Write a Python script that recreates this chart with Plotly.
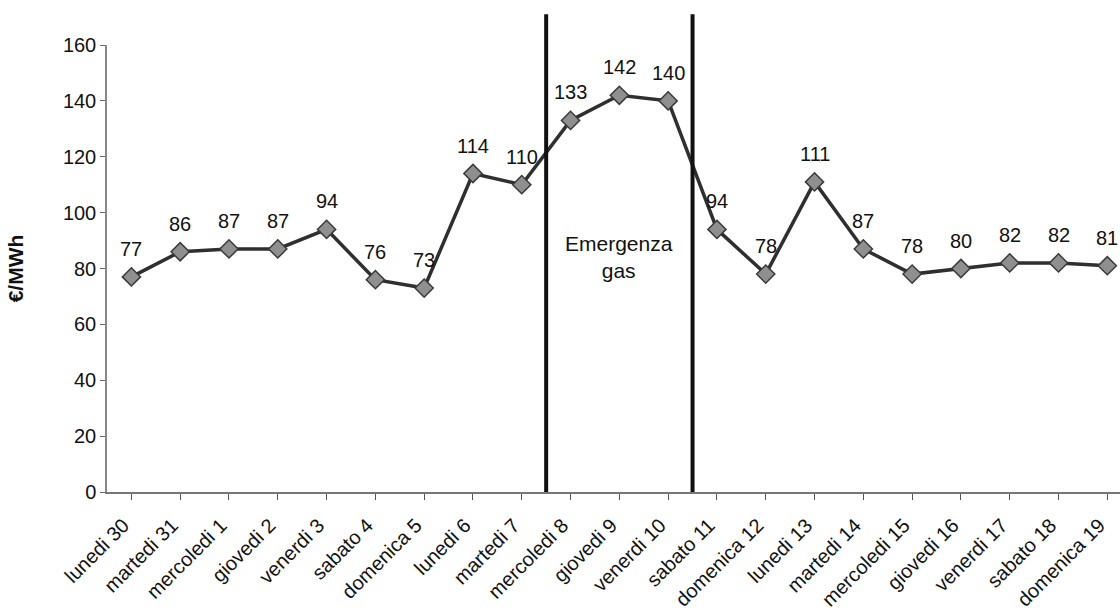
import plotly.graph_objects as go

days = ["lunedi 30", "martedi 31", "mercoledi 1", "giovedi 2", "venerdi 3", "sabato 4",
        "domenica 5", "lunedi 6", "martedi 7", "mercoledi 8", "giovedi 9", "venerdi 10",
        "sabato 11", "domenica 12", "lunedi 13", "martedi 14", "mercoledi 15", "giovedi 16",
        "venerdi 17", "sabato 18", "domenica 19"]
prices = [77, 86, 87, 87, 94, 76, 73, 114, 110, 133, 142, 140, 94, 78, 111, 87, 78, 80, 82, 82, 81]
y_ticks = [0, 20, 40, 60, 80, 100, 120, 140, 160]
emergency_bounds = [8.5, 11.5]

FONT = "Liberation Sans, Arial, sans-serif"

fig = go.Figure()
fig.add_trace(go.Scatter(
    x=list(range(len(days))), y=prices, mode="lines+markers",
    line=dict(color="#2f2f2f", width=3.5),
    marker=dict(symbol="diamond", size=14, color="#8f8f8f", line=dict(color="#3a3a3a", width=1.5)),
    hoverinfo="skip", showlegend=False, cliponaxis=False,
))

annotations = []
for i, v in enumerate(prices):
    annotations.append(dict(x=i, y=v, xref="x", yref="y", text=str(v), showarrow=False,
                            yshift=28, font=dict(family=FONT, size=20, color="#111")))
annotations.append(dict(x=sum(emergency_bounds) / 2, y=84, xref="x", yref="y",
                        text="Emergenza<br>gas", showarrow=False,
                        font=dict(family=FONT, size=21, color="#111")))

shapes = []
for b in emergency_bounds:
    shapes.append(dict(type="line", xref="x", yref="paper", x0=b, x1=b, y0=0, y1=1.069,
                       line=dict(color="#111", width=4)))

fig.update_layout(
    width=1120, height=615,
    margin=dict(l=107, r=0, t=45, b=123),
    paper_bgcolor="white", plot_bgcolor="white",
    font=dict(family=FONT, size=20, color="#111"),
    shapes=shapes, annotations=annotations,
    xaxis=dict(
        tickmode="array", tickvals=list(range(len(days))), ticktext=days,
        range=[-0.5, 20.26], tickangle=-45, tickfont=dict(size=20),
        ticklabelshift=-8, ticklabelstandoff=6,
        showline=True, linecolor="#777", linewidth=1.5, automargin=False,
        ticks="outside", ticklen=6, tickcolor="#555", showgrid=False, zeroline=False,
    ),
    yaxis=dict(
        range=[0, 160], tickvals=y_ticks, tickfont=dict(size=20), automargin=False,
        title=dict(text="<b>€/MWh</b>", font=dict(size=21), standoff=34),
        showline=True, linecolor="#888", linewidth=1.5,
        ticks="outside", ticklen=5, tickcolor="#666", showgrid=False, zeroline=False,
    ),
)
fig.update_xaxes(tickson="boundaries")

fig.write_html(
    "out.html",
    config={"displayModeBar": False},
    post_script="document.body.style.margin='0';document.body.style.overflow='hidden';",
)
